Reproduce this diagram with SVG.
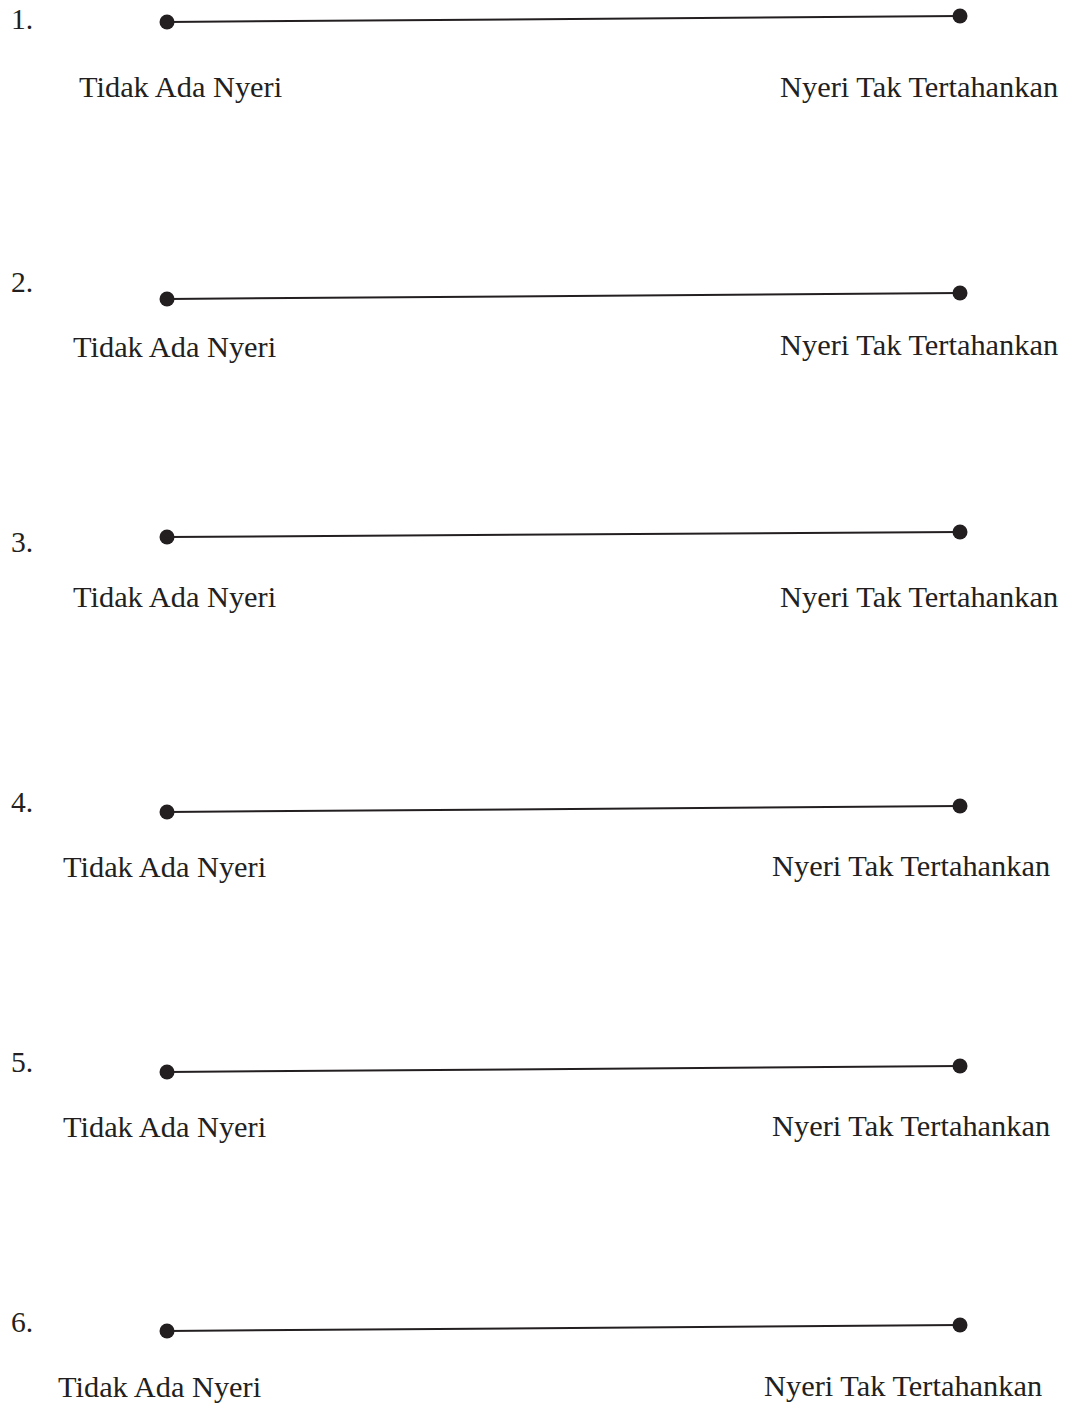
<svg xmlns="http://www.w3.org/2000/svg" width="1068" height="1406" viewBox="0 0 1068 1406">
<style>
text{font-family:"Liberation Serif","Times New Roman",serif;font-size:29.6px;fill:#231f20}
text.lbl{font-size:30.4px}
.ln{stroke:#231f20;stroke-width:2;fill:none}
.dot{fill:#231f20}
</style>
<rect width="1068" height="1406" fill="#fff"/>
<g id="connectors">
<line class="ln" x1="167" y1="22" x2="960" y2="16"/>
<line class="ln" x1="167" y1="299" x2="960" y2="293"/>
<line class="ln" x1="167" y1="537" x2="960" y2="532"/>
<line class="ln" x1="167" y1="812" x2="960" y2="806"/>
<line class="ln" x1="167" y1="1072" x2="960" y2="1066"/>
<line class="ln" x1="167" y1="1331" x2="960" y2="1325"/>
</g>
<g id="scale1">
<text x="11" y="29">1.</text>
<circle class="dot" cx="167" cy="22" r="7.5"/>
<circle class="dot" cx="960" cy="16" r="7.5"/>
<text class="lbl" x="79" y="97">Tidak Ada Nyeri</text>
<text class="lbl" x="780" y="97">Nyeri Tak Tertahankan</text>
</g>
<g id="scale2">
<text x="11" y="292">2.</text>
<circle class="dot" cx="167" cy="299" r="7.5"/>
<circle class="dot" cx="960" cy="293" r="7.5"/>
<text class="lbl" x="73" y="357">Tidak Ada Nyeri</text>
<text class="lbl" x="780" y="355">Nyeri Tak Tertahankan</text>
</g>
<g id="scale3">
<text x="11" y="552">3.</text>
<circle class="dot" cx="167" cy="537" r="7.5"/>
<circle class="dot" cx="960" cy="532" r="7.5"/>
<text class="lbl" x="73" y="607">Tidak Ada Nyeri</text>
<text class="lbl" x="780" y="607">Nyeri Tak Tertahankan</text>
</g>
<g id="scale4">
<text x="11" y="812">4.</text>
<circle class="dot" cx="167" cy="812" r="7.5"/>
<circle class="dot" cx="960" cy="806" r="7.5"/>
<text class="lbl" x="63" y="877">Tidak Ada Nyeri</text>
<text class="lbl" x="772" y="876">Nyeri Tak Tertahankan</text>
</g>
<g id="scale5">
<text x="11" y="1072">5.</text>
<circle class="dot" cx="167" cy="1072" r="7.5"/>
<circle class="dot" cx="960" cy="1066" r="7.5"/>
<text class="lbl" x="63" y="1137">Tidak Ada Nyeri</text>
<text class="lbl" x="772" y="1136">Nyeri Tak Tertahankan</text>
</g>
<g id="scale6">
<text x="11" y="1332">6.</text>
<circle class="dot" cx="167" cy="1331" r="7.5"/>
<circle class="dot" cx="960" cy="1325" r="7.5"/>
<text class="lbl" x="58" y="1397">Tidak Ada Nyeri</text>
<text class="lbl" x="764" y="1396">Nyeri Tak Tertahankan</text>
</g>
</svg>
